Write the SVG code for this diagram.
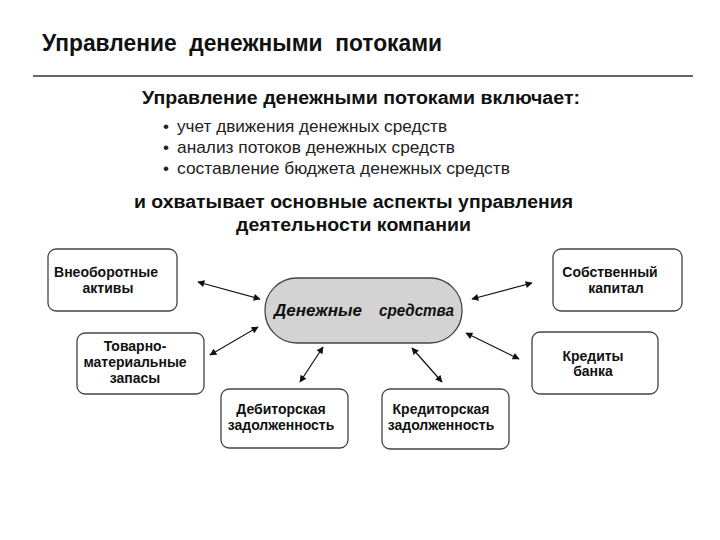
<svg xmlns="http://www.w3.org/2000/svg" width="720" height="540" viewBox="0 0 720 540">
<style>
text{font-family:"Liberation Sans",Arial,sans-serif;fill:#111}
.t{font-size:23px;font-weight:bold}
.h{font-size:18px;font-weight:bold}
.b{font-size:17px;fill:#222}
.n{font-size:14px;font-weight:bold;text-anchor:middle}
.c{font-size:16px;font-weight:bold;font-style:italic}
.box{fill:#fff;stroke:#444;stroke-width:1.3}
.pill{fill:#d3d3d3;stroke:#444;stroke-width:1.3}
.ar{stroke:#111;stroke-width:1.2;fill:none;marker-start:url(#ah);marker-end:url(#ah)}
</style>
<defs>
<marker id="ah" viewBox="0 0 10 10" refX="9" refY="5" markerWidth="10" markerHeight="7" markerUnits="userSpaceOnUse" orient="auto-start-reverse">
<path d="M0,0 L10,5 L0,10 z" fill="#111"/>
</marker>
</defs>
<rect width="720" height="540" fill="#fff"/>
<g id="header">
<text class="t" x="42" y="51" textLength="400" lengthAdjust="spacingAndGlyphs" xml:space="preserve">Управление  денежными  потоками</text>
<line x1="33" y1="76" x2="693" y2="76" stroke="#333" stroke-width="1.3"/>
<text class="h" x="142" y="104" textLength="438" lengthAdjust="spacingAndGlyphs">Управление денежными потоками включает:</text>
<text class="b" x="163" y="132">•</text>
<text class="b" x="177" y="132" textLength="270" lengthAdjust="spacingAndGlyphs">учет движения денежных средств</text>
<text class="b" x="163" y="153">•</text>
<text class="b" x="177" y="153" textLength="278" lengthAdjust="spacingAndGlyphs">анализ потоков денежных средств</text>
<text class="b" x="163" y="174">•</text>
<text class="b" x="177" y="174" textLength="333" lengthAdjust="spacingAndGlyphs">составление бюджета денежных средств</text>
<text class="h" x="134" y="208" textLength="439" lengthAdjust="spacingAndGlyphs">и охватывает основные аспекты управления</text>
<text class="h" x="236" y="231" textLength="235" lengthAdjust="spacingAndGlyphs">деятельности компании</text>
</g>
<g id="connectors">
<line class="ar" x1="198" y1="282" x2="260" y2="299"/>
<line class="ar" x1="210" y1="355" x2="258" y2="327"/>
<line class="ar" x1="300" y1="382" x2="323" y2="347"/>
<line class="ar" x1="472" y1="299" x2="532" y2="283"/>
<line class="ar" x1="466" y1="333" x2="519" y2="359"/>
<line class="ar" x1="412" y1="348" x2="442" y2="382"/>
</g>
<g id="center">
<rect class="pill" x="265" y="278" width="197" height="65" rx="32" ry="32"/>
<text class="c" x="274" y="316" textLength="88" lengthAdjust="spacingAndGlyphs">Денежные</text>
<text class="c" x="379" y="316" textLength="75" lengthAdjust="spacingAndGlyphs">средства</text>
</g>
<g id="vneoborotnye">
<rect class="box" x="48" y="249" width="129" height="62" rx="8"/>
<text class="n" x="106" y="277">Внеоборотные</text>
<text class="n" x="108" y="293">активы</text>
</g>
<g id="tmz">
<rect class="box" x="77" y="333" width="127" height="61" rx="8"/>
<text class="n" x="135" y="351">Товарно-</text>
<text class="n" x="135" y="367">материальные</text>
<text class="n" x="135" y="383">запасы</text>
</g>
<g id="debitorskaya">
<rect class="box" x="221" y="389" width="127" height="59" rx="8"/>
<text class="n" x="281" y="414">Дебиторская</text>
<text class="n" x="281" y="430">задолженность</text>
</g>
<g id="kreditorskaya">
<rect class="box" x="382" y="389" width="127" height="60" rx="8"/>
<text class="n" x="441" y="414">Кредиторская</text>
<text class="n" x="441" y="430">задолженность</text>
</g>
<g id="sobstvenny">
<rect class="box" x="553" y="249" width="129" height="62" rx="8"/>
<text class="n" x="610" y="277">Собственный</text>
<text class="n" x="616" y="293">капитал</text>
</g>
<g id="kredity">
<rect class="box" x="532" y="332" width="126" height="62" rx="8"/>
<text class="n" x="593" y="361">Кредиты</text>
<text class="n" x="593" y="376">банка</text>
</g>
</svg>
